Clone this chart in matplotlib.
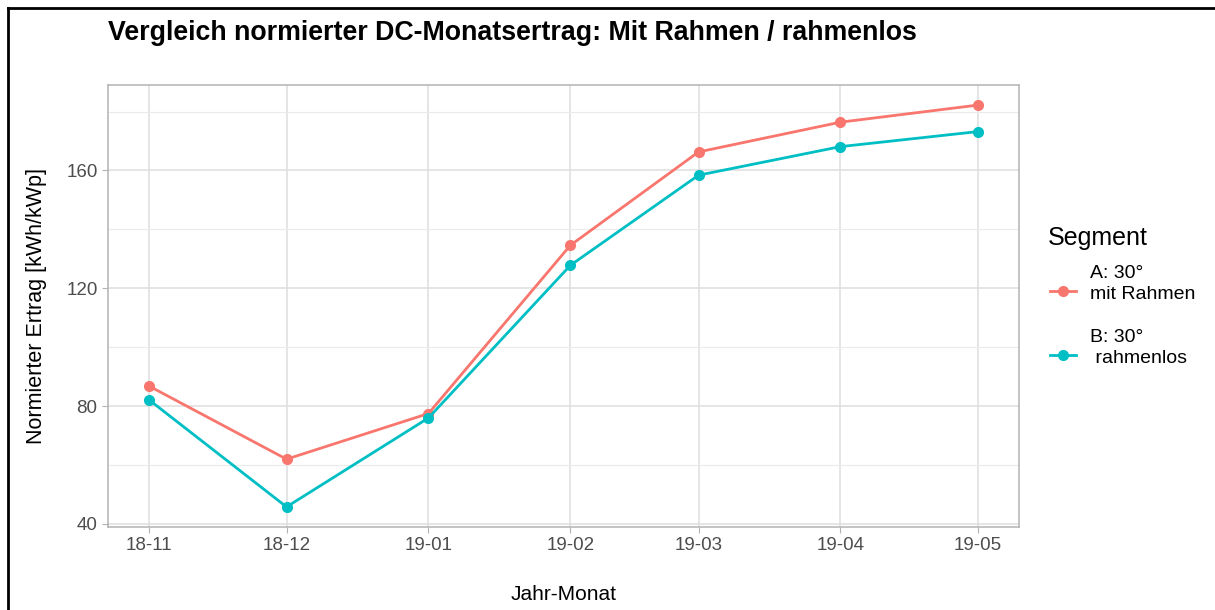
import matplotlib
matplotlib.use("Agg")
import matplotlib.pyplot as plt
import matplotlib.dates as mdates
from matplotlib.lines import Line2D
import numpy as np

plt.rcParams['font.family'] = ['Liberation Sans', 'DejaVu Sans']

# Monate (Monatsanfang) und normierte Ertraege
monate = ['2018-11-01', '2018-12-01', '2019-01-01', '2019-02-01',
          '2019-03-01', '2019-04-01', '2019-05-01']
monat_labels = ['18-11', '18-12', '19-01', '19-02', '19-03', '19-04', '19-05']
ertrag_a = [86.8, 62.0, 77.5, 134.6, 166.3, 176.4, 182.2]  # mit Rahmen
ertrag_b = [82.1, 45.8, 76.0, 127.8, 158.4, 168.1, 173.2]  # rahmenlos
segmente = ['A: 30°\nmit Rahmen', 'B: 30°\n rahmenlos']
farben = ['#F8766D', '#00BFC4']

x = np.array(monate, dtype='datetime64[D]')
W, H = 1215, 610
fig = plt.figure(figsize=(W / 100, H / 100), dpi=100)

# Panel-Position in Pixeln
left, right, top, bottom = 108, 1019, 85, 527
ax = fig.add_axes([left / W, (H - bottom) / H, (right - left) / W, (bottom - top) / H])

for werte, farbe in zip([ertrag_a, ertrag_b], farben):
    ax.plot(x, werte, color=farbe, lw=2.0, marker='o', ms=7, zorder=3)

# ggplot-artige Achsenerweiterung (5 %)
span = (x[-1] - x[0]).astype(int)
ax.set_xlim(mdates.date2num(x[0] - np.timedelta64(int(round(span * 0.05)), 'D')),
            mdates.date2num(x[-1] + np.timedelta64(int(round(span * 0.05)), 'D')))
alle = ertrag_a + ertrag_b
rng = max(alle) - min(alle)
ax.set_ylim(min(alle) - 0.05 * rng, max(alle) + 0.05 * rng)

ax.set_xticks(mdates.date2num(x))
ax.set_xticklabels(monat_labels)
ax.set_yticks([40, 80, 120, 160])
ax.set_yticks([60, 100, 140, 180], minor=True)

ax.grid(which='major', color='#DEDEDE', lw=1.1)
ax.grid(which='minor', axis='y', color='#EBEBEB', lw=0.8)
ax.set_axisbelow(True)
for s in ax.spines.values():
    s.set_color('#B3B3B3')
    s.set_linewidth(1.1)
ax.tick_params(which='major', colors='#B3B3B3', labelcolor='#4D4D4D', labelsize=13.5, length=4)
ax.tick_params(which='minor', length=0)

ax.set_xlabel('Jahr-Monat', fontsize=15, labelpad=22)
ax.set_ylabel('Normierter Ertrag [kWh/kWp]', fontsize=15.5, labelpad=14)

fig.text(left / W, 1 - 33 / H, 'Vergleich normierter DC-Monatsertrag: Mit Rahmen / rahmenlos',
         fontsize=19.3, fontweight='bold', va='center', ha='left')

# Legende manuell
fig.text(1048 / W, 1 - 238 / H, 'Segment', fontsize=18, va='center', ha='left')
for i, (lab, farbe) in enumerate(zip(segmente, farben)):
    y0 = 291 + i * 64
    fig.add_artist(Line2D([1050 / W, 1076 / W], [1 - y0 / H, 1 - y0 / H], color=farbe, lw=2.0,
                          transform=fig.transFigure))
    fig.add_artist(Line2D([1063 / W], [1 - y0 / H], color=farbe, marker='o', ms=7,
                          transform=fig.transFigure))
    fig.text(1090 / W, 1 - (y0 - 7) / H, lab, fontsize=14, va='center', ha='left',
             linespacing=1.3)

# Rahmen oben und links
fig.add_artist(Line2D([8 / W, 1], [1 - 8 / H, 1 - 8 / H], color='black', lw=2,
                      transform=fig.transFigure))
fig.add_artist(Line2D([8 / W, 8 / W], [0, 1 - 8 / H], color='black', lw=2,
                      transform=fig.transFigure))

fig.savefig('out.png', dpi=100)
